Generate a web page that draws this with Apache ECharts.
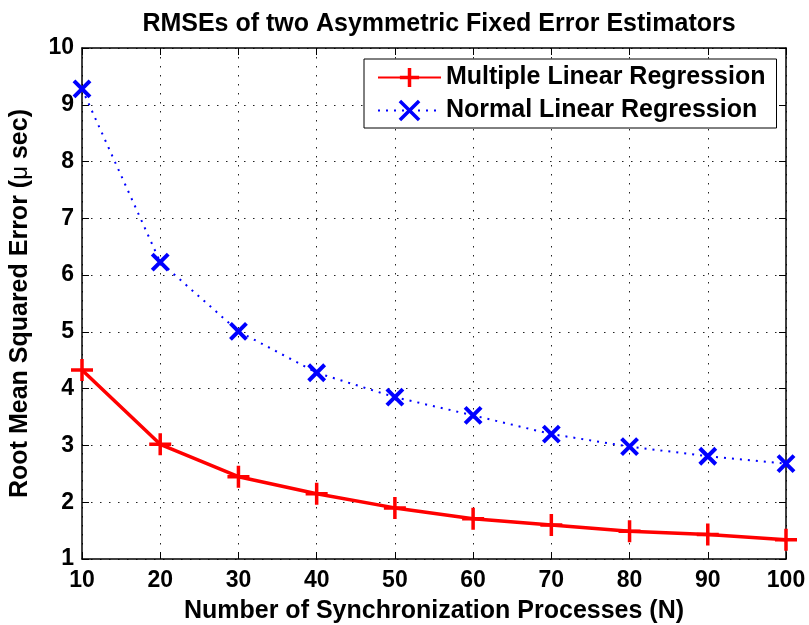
<!DOCTYPE html>
<html>
<head>
<meta charset="utf-8">
<script src="https://cdn.jsdelivr.net/npm/echarts@6/dist/echarts.min.js"></script>
<style>html,body{margin:0;padding:0;background:#fff;}#c{width:809px;height:625px;}</style>
</head>
<body>
<div id="c"></div>
<script>
// Data
const nValues = [10, 20, 30, 40, 50, 60, 70, 80, 90, 100];
const multipleLR = [4.33, 3.02, 2.45, 2.15, 1.90, 1.71, 1.60, 1.49, 1.43, 1.34];
const normalLR = [9.28, 6.23, 5.01, 4.28, 3.85, 3.53, 3.20, 2.98, 2.81, 2.68];
const seriesNames = ['Multiple Linear Regression', 'Normal Linear Regression'];
const titleText = 'RMSEs of two Asymmetric Fixed Error Estimators';
const xName = 'Number of Synchronization Processes (N)';

const FONT = '"Liberation Sans", Arial, Helvetica, sans-serif';
const chart = echarts.init(document.getElementById('c'), null, {renderer: 'canvas'});

const pair = (arr) => nValues.map((x, i) => [x, arr[i]]);
const gridDash = {color: '#222', width: 1, type: [1.5, 7.5]};

const option = {
  backgroundColor: '#fff',
  animation: false,
  title: {
    text: titleText,
    left: 434, top: 7, textAlign: 'center',
    textStyle: {fontFamily: FONT, fontWeight: 'bold', fontSize: 25, color: '#000'}
  },
  grid: {left: 82, right: 23, top: 48, bottom: 66, containLabel: false, outerBoundsMode: 'none'},
  legend: {
    orient: 'vertical',
    left: 364, top: 59,
    padding: [6, 11, 5, 13],
    itemGap: 8,
    itemWidth: 63, itemHeight: 24,
    backgroundColor: '#fff',
    borderColor: '#000', borderWidth: 1,
    textStyle: {fontFamily: FONT, fontWeight: 'bold', fontSize: 25, color: '#000'},
    data: [
      {name: seriesNames[0], itemStyle: {borderWidth: 3.5}},
      {name: seriesNames[1], itemStyle: {borderWidth: 3.5}}
    ]
  },
  xAxis: [{
    type: 'value', min: 10, max: 100, interval: 10,
    position: 'bottom',
    name: xName, nameLocation: 'middle', nameGap: 40,
    nameTextStyle: {fontFamily: FONT, fontWeight: 'bold', fontSize: 25, color: '#000'},
    axisLine: {show: true, lineStyle: {color: '#000', width: 1.5}},
    axisTick: {show: true, inside: true, length: 7, lineStyle: {color: '#000', width: 1}},
    axisLabel: {fontFamily: FONT, fontWeight: 'bold', fontSize: 23, color: '#000', margin: 10},
    splitLine: {show: true, lineStyle: gridDash}
  }, {
    type: 'value', min: 10, max: 100, interval: 10,
    position: 'top',
    axisLine: {show: true, lineStyle: {color: '#000', width: 1.5}},
    axisTick: {show: true, inside: true, length: 7, lineStyle: {color: '#000', width: 1}},
    axisLabel: {show: false},
    splitLine: {show: false}
  }],
  yAxis: [{
    type: 'value', min: 1, max: 10, interval: 1,
    position: 'left',
    name: '{a|Root Mean Squared Error (}{m|μ}{a| sec)}',
    nameLocation: 'middle', nameGap: 49,
    nameTextStyle: {
      fontFamily: FONT, fontWeight: 'bold', fontSize: 25, color: '#000',
      rich: {
        a: {fontFamily: FONT, fontWeight: 'bold', fontSize: 25, color: '#000'},
        m: {fontFamily: FONT, fontWeight: 'normal', fontSize: 24, color: '#000'}
      }
    },
    axisLine: {show: true, lineStyle: {color: '#000', width: 1.5}},
    axisTick: {show: true, inside: true, length: 7, lineStyle: {color: '#000', width: 1}},
    axisLabel: {fontFamily: FONT, fontWeight: 'bold', fontSize: 23, color: '#000', margin: 8},
    splitLine: {show: true, lineStyle: gridDash}
  }, {
    type: 'value', min: 1, max: 10, interval: 1,
    position: 'right',
    axisLine: {show: true, lineStyle: {color: '#000', width: 1.5}},
    axisTick: {show: true, inside: true, length: 7, lineStyle: {color: '#000', width: 1}},
    axisLabel: {show: false},
    splitLine: {show: false}
  }],
  series: [{
    name: seriesNames[0],
    type: 'line',
    xAxisIndex: 0, yAxisIndex: 0,
    data: pair(multipleLR),
    symbol: 'path://M0,10 L20,10 M10,0 L10,20',
    symbolSize: 22,
    showAllSymbol: true,
    lineStyle: {color: '#ff0000', width: 3.5},
    itemStyle: {color: 'rgba(0,0,0,0)', borderColor: '#ff0000', borderWidth: 3.5},
    z: 3
  }, {
    name: seriesNames[1],
    type: 'line',
    xAxisIndex: 0, yAxisIndex: 0,
    data: pair(normalLR),
    symbol: 'path://M0,0 L10,10 M10,0 L0,10',
    symbolSize: 16,
    showAllSymbol: true,
    lineStyle: {color: '#0000ff', width: 2, type: [2, 6]},
    itemStyle: {color: 'rgba(0,0,0,0)', borderColor: '#0000ff', borderWidth: 4},
    z: 4
  }]
};
chart.setOption(option);
</script>
</body>
</html>
